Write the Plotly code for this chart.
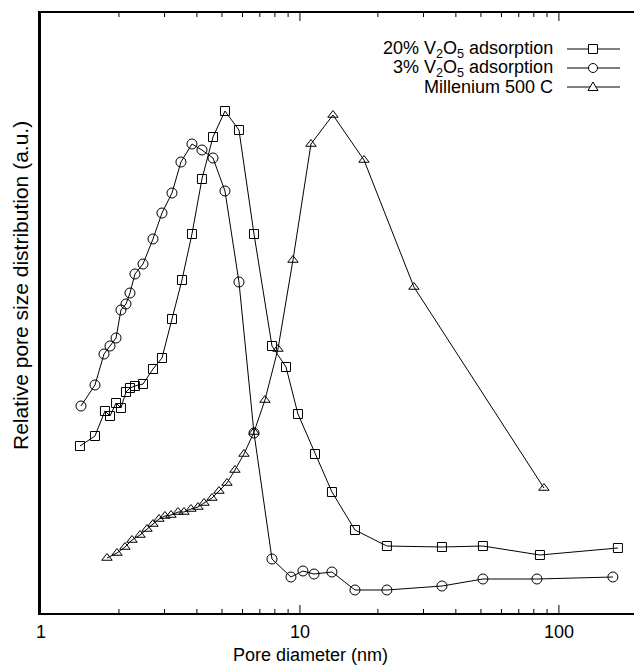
import math
import plotly.graph_objects as go

# ---------------- data ----------------
sq_x = [1.414, 1.616, 1.766, 1.847, 1.949, 2.036, 2.129, 2.206, 2.306, 2.477,
        2.707, 2.932, 3.205, 3.503, 3.828, 4.183, 4.615, 5.134, 5.814, 6.645,
        7.797, 8.833, 9.824, 11.43, 13.29, 16.31, 21.67, 35.34, 50.88, 84.46, 169.0]
sq_y = [167, 177, 202, 197, 210, 205, 221, 225, 227, 229,
        244, 255, 294, 333, 379, 434, 476, 502, 483, 379,
        267, 246, 199, 159, 121, 83, 67, 66, 67, 58, 65]

ci_x = [1.427, 1.616, 1.751, 1.847, 1.949, 2.036, 2.129, 2.206, 2.306, 2.477,
        2.707, 2.932, 3.205, 3.471, 3.828, 4.183, 4.615, 5.134, 5.814, 6.645,
        7.797, 9.232, 10.27, 11.33, 13.29, 16.31, 21.67, 35.34, 50.88, 82.25, 161.6]
ci_y = [207, 228, 259, 267, 275, 303, 309, 320, 339, 349,
        374, 400, 420, 451, 469, 463, 455, 422, 331, 180,
        54, 36, 42, 39, 41, 23, 23, 27, 34, 34, 36]

tr_x = [1.798, 1.966, 2.110, 2.246, 2.412, 2.567, 2.707, 2.855, 3.011, 3.177,
        3.381, 3.566, 3.794, 4.039, 4.260, 4.573, 4.868, 5.226, 5.611, 6.078,
        6.645, 7.325, 8.225, 9.397, 11.03, 13.41, 17.67, 27.55, 87.53]
tr_y = [55, 60, 66, 73, 78, 84, 89, 94, 97, 98,
        101, 101, 104, 106, 110, 115, 122, 130, 143, 159,
        181, 213, 264, 353, 469, 498, 453, 326, 125]

series_names = ["20% V<sub>2</sub>O<sub>5</sub> adsorption",
                "3% V<sub>2</sub>O<sub>5</sub> adsorption",
                "Millenium 500 C"]
tick_vals = [1, 10, 100]
tick_text = ["1", "10", "100"]
minor_vals = [m * 10 ** d for d in range(0, 3) for m in range(2, 10)]
x_title = "Pore diameter (nm)"
y_title = "Relative pore size distribution (a.u.)"

# ---------------- layout constants ----------------
W, H = 635, 665
L, R, T, B = 41, 1, 13, 52
PW, PH = W - L - R, H - T - B
XMAX_LOG = 2.29
FONT = "Liberation Sans, Arial, Helvetica, sans-serif"


def px(xp):
    return (xp - L) / PW


def py(yp):
    return 1 - (yp - T) / PH


def xv(v):
    return math.log10(v) / XMAX_LOG


fig = go.Figure()
common = dict(mode="lines+markers", line=dict(color="black", width=1), showlegend=False)
fig.add_trace(go.Scatter(x=sq_x, y=sq_y, name="20%",
                         marker=dict(symbol="square-open", size=9, color="black",
                                     line=dict(width=1, color="black")), **common))
fig.add_trace(go.Scatter(x=ci_x, y=ci_y, name="3%",
                         marker=dict(symbol="circle-open", size=10, color="black",
                                     line=dict(width=1, color="black")), **common))
fig.add_trace(go.Scatter(x=tr_x, y=tr_y, name="Millenium",
                         marker=dict(symbol="triangle-up-open", size=9, color="black",
                                     line=dict(width=1, color="black")), **common))

shapes = []
annotations = []

# ---------------- ticks (bottom and top, inside) ----------------
for v in tick_vals + minor_vals:
    if math.log10(v) > XMAX_LOG or v == 1:
        continue
    ln = 8 if v in tick_vals else 4
    xp = xv(v)
    shapes.append(dict(type="line", xref="paper", yref="paper", x0=xp, x1=xp,
                       y0=0, y1=ln / PH, line=dict(color="black", width=1)))
    shapes.append(dict(type="line", xref="paper", yref="paper", x0=xp, x1=xp,
                       y0=1, y1=1 - ln / PH, line=dict(color="black", width=1)))

# tick labels
for v, t in zip(tick_vals, tick_text):
    annotations.append(dict(x=xv(v), y=py(632), xref="paper", yref="paper", text=t,
                            showarrow=False, xanchor="center", yanchor="middle",
                            font=dict(family=FONT, size=18, color="black")))

# axis titles
annotations.append(dict(x=px(310), y=py(655), xref="paper", yref="paper", text=x_title,
                        showarrow=False, xanchor="center", yanchor="middle",
                        font=dict(family=FONT, size=18, color="black")))
annotations.append(dict(x=px(20), y=py(286), xref="paper", yref="paper", text=y_title,
                        showarrow=False, xanchor="center", yanchor="middle", textangle=-90,
                        font=dict(family=FONT, size=21, color="black")))

# ---------------- custom legend (text right, sample on right) ----------------
rows = [49, 68, 87]
for i, (name, yr) in enumerate(zip(series_names, rows)):
    annotations.append(dict(x=px(555), y=py(yr), xref="paper", yref="paper",
                            text=name, showarrow=False, xanchor="right", yanchor="middle",
                            font=dict(family=FONT, size=18, color="black")))
    shapes.append(dict(type="line", xref="paper", yref="paper",
                       x0=px(567), x1=px(620), y0=py(yr), y1=py(yr),
                       line=dict(color="black", width=1)))
    cx = 593
    if i == 0:
        shapes.append(dict(type="rect", xref="paper", yref="paper",
                           x0=px(cx - 4.5), x1=px(cx + 4.5), y0=py(yr - 4.5), y1=py(yr + 4.5),
                           line=dict(color="black", width=1), fillcolor="white"))
    elif i == 1:
        shapes.append(dict(type="circle", xref="paper", yref="paper",
                           x0=px(cx - 4.5), x1=px(cx + 4.5), y0=py(yr - 4.5), y1=py(yr + 4.5),
                           line=dict(color="black", width=1), fillcolor="white"))
    else:
        x0, x1, xm = px(cx - 5), px(cx + 5), px(cx)
        yb, yt = py(yr + 3.5), py(yr - 5)
        shapes.append(dict(type="path", xref="paper", yref="paper",
                           path=f"M {x0} {yb} L {x1} {yb} L {xm} {yt} Z",
                           line=dict(color="black", width=1), fillcolor="white"))

fig.update_layout(
    width=W, height=H,
    margin=dict(l=L, r=R, t=T, b=B, pad=0),
    paper_bgcolor="white", plot_bgcolor="white",
    font=dict(family=FONT, size=18, color="black"),
    shapes=shapes, annotations=annotations,
    xaxis=dict(type="log", range=[0, XMAX_LOG], showticklabels=False, ticks="",
               showline=True, linewidth=2, linecolor="black", mirror=True,
               showgrid=False, zeroline=False, automargin=False),
    yaxis=dict(range=[0, 600], showticklabels=False, ticks="",
               showline=True, linewidth=3, linecolor="black", mirror=False,
               showgrid=False, zeroline=False, automargin=False),
)

fig.write_html("out.html", config={"displayModeBar": False},
               post_script="document.body.style.margin='0';document.body.style.padding='0';"
                           "document.body.style.overflow='hidden';")
